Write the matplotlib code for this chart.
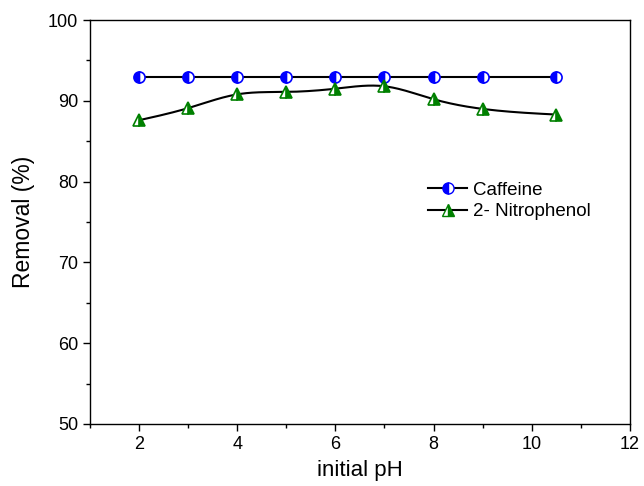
import numpy as np
import matplotlib
matplotlib.use("Agg")
import matplotlib.pyplot as plt
from matplotlib.ticker import MultipleLocator

plt.rcParams['font.family'] = ['Liberation Sans', 'DejaVu Sans']

ph = [2, 3, 4, 5, 6, 7, 8, 9, 10.5]
caffeine = [93.0, 93.0, 93.0, 93.0, 93.0, 93.0, 93.0, 93.0, 93.0]
nitrophenol = [87.6, 89.1, 90.8, 91.1, 91.5, 91.8, 90.2, 89.0, 88.3]


def natural_spline(x, y, n=300):
    x = np.asarray(x, float); y = np.asarray(y, float)
    k = len(x); h = np.diff(x)
    A = np.zeros((k, k)); b = np.zeros(k)
    A[0, 0] = A[-1, -1] = 1
    for i in range(1, k - 1):
        A[i, i - 1] = h[i - 1]; A[i, i] = 2 * (h[i - 1] + h[i]); A[i, i + 1] = h[i]
        b[i] = 3 * ((y[i + 1] - y[i]) / h[i] - (y[i] - y[i - 1]) / h[i - 1])
    c = np.linalg.solve(A, b)
    xs = np.linspace(x[0], x[-1], n); ys = np.empty_like(xs)
    for j, xv in enumerate(xs):
        i = min(np.searchsorted(x, xv, side='right') - 1, k - 2)
        dx = xv - x[i]
        bi = (y[i + 1] - y[i]) / h[i] - h[i] * (c[i + 1] + 2 * c[i]) / 3
        di = (c[i + 1] - c[i]) / (3 * h[i])
        ys[j] = y[i] + bi * dx + c[i] * dx ** 2 + di * dx ** 3
    return xs, ys

fig = plt.figure(figsize=(6.44, 4.86), dpi=100)
ax = fig.add_axes([0.1398, 0.1276, 0.978 - 0.1398, 0.9588 - 0.1276])

ax.plot(ph, caffeine, color='black', lw=1.5, zorder=2)
ax.plot(ph, caffeine, ls='none', marker='o', ms=8, color='blue', mec='blue',
        fillstyle='left', markerfacecoloralt='white', mew=1.2, zorder=3)
xs, ys = natural_spline(ph, nitrophenol)
ax.plot(xs, ys, color='black', lw=1.5, zorder=2)
ax.plot(ph, nitrophenol, ls='none', marker='^', ms=9, color='green', mec='green',
        fillstyle='right', markerfacecoloralt='white', mew=1.2, zorder=3)

h1, = ax.plot([], [], color='black', lw=1.5, marker='o', ms=8, mfc='blue', mec='blue',
              fillstyle='left', markerfacecoloralt='white')
h2, = ax.plot([], [], color='black', lw=1.5, marker='^', ms=9, mfc='green', mec='green',
              fillstyle='right', markerfacecoloralt='white')
ax.legend([h1, h2], ['Caffeine', '2- Nitrophenol'], loc='center left',
          bbox_to_anchor=(0.626, 0.552), frameon=False, fontsize=13.5,
          borderpad=0, borderaxespad=0,
          handlelength=2.1, handletextpad=0.3, labelspacing=0.25)

ax.set_xlim(1, 12)
ax.set_ylim(50, 100)
ax.xaxis.set_major_locator(MultipleLocator(2))
ax.xaxis.set_minor_locator(MultipleLocator(1))
ax.yaxis.set_major_locator(MultipleLocator(10))
ax.yaxis.set_minor_locator(MultipleLocator(5))
ax.tick_params(which='both', direction='out', top=False, right=False, labelsize=13)
ax.tick_params(which='major', length=5, width=1)
ax.tick_params(which='minor', length=3, width=1)
for s in ax.spines.values():
    s.set_linewidth(1)
ax.set_xlabel('initial pH', fontsize=16, labelpad=5)
ax.set_ylabel('Removal (%)', fontsize=16.5, labelpad=9)

fig.savefig('out.png', dpi=100)
